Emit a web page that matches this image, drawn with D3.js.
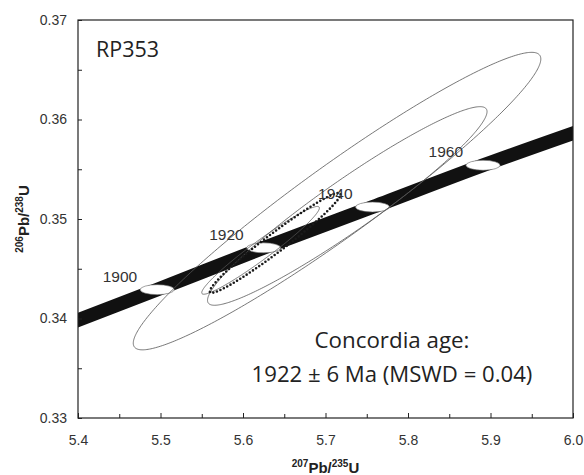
<!DOCTYPE html>
<html>
<head>
<meta charset="utf-8">
<script src="https://cdn.jsdelivr.net/npm/d3@7"></script>
<style>
  html, body { margin: 0; padding: 0; background: #fff; }
  svg { display: block; }
</style>
</head>
<body>
<svg id="chart" width="584" height="475"></svg>
<script>
// ---- data ----
const sampleName = "RP353";
const xTickValues = [5.4, 5.5, 5.6, 5.7, 5.8, 5.9, 6.0];
const xTickLabels = ["5.4", "5.5", "5.6", "5.7", "5.8", "5.9", "6.0"];
const yTickValues = [0.33, 0.34, 0.35, 0.36, 0.37];
const yTickLabels = ["0.33", "0.34", "0.35", "0.36", "0.37"];

// concordia curve points (207Pb/235U, 206Pb/238U)
const concordiaX = [5.38, 5.496, 5.625, 5.757, 5.891, 6.02];
const concordiaY = [0.3392, 0.3429, 0.3471, 0.3512, 0.3554, 0.3592];

// age markers on concordia
const markerAges = ["1900", "1920", "1940", "1960"];
const markerX = [5.496, 5.625, 5.757, 5.891];
const markerY = [0.3429, 0.3471, 0.3512, 0.3554];

// analysis error ellipses: centre, 2-sigma half widths, correlation
const ellipseCx = [5.714, 5.7264, 5.6213];
const ellipseCy = [0.3518, 0.35131, 0.34685];
const ellipseSx = [0.247, 0.1694, 0.0713];
const ellipseSy = [0.01495, 0.00998, 0.00441];
const ellipseRho = [0.955, 0.95, 0.965];

// concordia age ellipse (dotted)
const ageEllipse = { cx: 5.639, cy: 0.3476, sx: 0.0792, sy: 0.00502, rho: 0.972 };
const ageText1 = "Concordia age:";
const ageText2 = "1922 \u00b1 6 Ma (MSWD = 0.04)";

// ---- layout ----
const svg = d3.select("#chart");
const L = 78, R = 573, T = 20, B = 418;
const x = d3.scaleLinear().domain([5.4, 6.0]).range([L, R]);
const y = d3.scaleLinear().domain([0.33, 0.37]).range([B, T]);

svg.append("defs").append("clipPath").attr("id", "plotclip")
  .append("rect").attr("x", L).attr("y", T).attr("width", R - L).attr("height", B - T);

const plot = svg.append("g").attr("clip-path", "url(#plotclip)");

// concordia band
const band = d3.line().x(d => x(d[0])).y(d => y(d[1])).curve(d3.curveMonotoneX);
plot.append("path")
  .datum(concordiaX.map((v, i) => [v, concordiaY[i]]))
  .attr("d", band)
  .attr("fill", "none")
  .attr("stroke", "#111")
  .attr("stroke-width", 13.8);

// markers
plot.selectAll("ellipse.marker")
  .data(markerAges)
  .join("ellipse")
  .attr("class", "marker")
  .attr("cx", (d, i) => x(markerX[i]))
  .attr("cy", (d, i) => y(markerY[i]))
  .attr("rx", 17)
  .attr("ry", 5)
  .attr("fill", "#fff")
  .attr("stroke", "#666")
  .attr("stroke-width", 0.6);

function ellipsePoints(cx, cy, sx, sy, rho) {
  const pts = [];
  const n = 360;
  const k = Math.sqrt(1 - rho * rho);
  for (let j = 0; j < n; j++) {
    const t = (j / n) * 2 * Math.PI;
    const c = Math.cos(t), s = Math.sin(t);
    pts.push([cx + sx * c, cy + sy * (rho * c + k * s)]);
  }
  return pts;
}
const closedLine = d3.line().x(d => x(d[0])).y(d => y(d[1])).curve(d3.curveLinearClosed);

plot.selectAll("path.err")
  .data(ellipseCx)
  .join("path")
  .attr("class", "err")
  .attr("d", (d, i) => closedLine(ellipsePoints(ellipseCx[i], ellipseCy[i], ellipseSx[i], ellipseSy[i], ellipseRho[i])))
  .attr("fill", "none")
  .attr("stroke", "#555")
  .attr("stroke-width", 0.8);

plot.append("path")
  .attr("d", closedLine(ellipsePoints(ageEllipse.cx, ageEllipse.cy, ageEllipse.sx, ageEllipse.sy, ageEllipse.rho)))
  .attr("fill", "none")
  .attr("stroke", "#1a1a1a")
  .attr("stroke-width", 2.6)
  .attr("stroke-linecap", "round")
  .attr("stroke-dasharray", "0 3.8");

// marker labels
svg.selectAll("text.age")
  .data(markerAges)
  .join("text")
  .attr("class", "age")
  .attr("x", (d, i) => x(markerX[i]) - 20)
  .attr("y", (d, i) => y(markerY[i]) - 8)
  .attr("text-anchor", "end")
  .attr("font-family", "'Liberation Sans', Arial, sans-serif")
  .attr("font-size", 15.5)
  .attr("fill", "#333")
  .text(d => d);

// axes
const minorX = d3.range(5.4, 6.0001, 0.05).map(v => +v.toFixed(2));
const minorY = d3.range(0.33, 0.37001, 0.005).map(v => +v.toFixed(3));

const xAxis = d3.axisBottom(x)
  .tickValues(minorX)
  .tickSize(-4)
  .tickPadding(17)
  .tickFormat(v => {
    const i = xTickValues.findIndex(t => Math.abs(t - v) < 1e-9);
    return i >= 0 ? xTickLabels[i] : "";
  });
const gx = svg.append("g").attr("transform", `translate(0,${B})`).call(xAxis);

const yAxis = d3.axisLeft(y)
  .tickValues(minorY)
  .tickSize(-4)
  .tickPadding(11)
  .tickFormat(v => {
    const i = yTickValues.findIndex(t => Math.abs(t - v) < 1e-9);
    return i >= 0 ? yTickLabels[i] : "";
  });
const gy = svg.append("g").attr("transform", `translate(${L},0)`).call(yAxis);

[gx, gy].forEach(g => {
  g.select(".domain").remove();
  g.selectAll(".tick line").attr("stroke", "#222").attr("stroke-width", 1);
  g.selectAll(".tick text")
    .attr("font-family", "'Liberation Sans', Arial, sans-serif")
    .attr("font-size", 14)
    .attr("fill", "#333");
});
gx.selectAll(".tick line").attr("y2", v => xTickValues.some(t => Math.abs(t - v) < 1e-9) ? -5 : -4);

// frame
svg.append("rect")
  .attr("x", L).attr("y", T).attr("width", R - L).attr("height", B - T)
  .attr("fill", "none").attr("stroke", "#222").attr("stroke-width", 1.2);

// axis titles
function titleText(g, sup1, main1, sup2, main2) {
  const t = g.append("text")
    .attr("text-anchor", "middle")
    .attr("font-family", "'Liberation Sans', Arial, sans-serif")
    .attr("font-weight", "bold")
    .attr("fill", "#222");
  t.append("tspan").attr("font-size", 10).attr("dy", -6).text(sup1);
  t.append("tspan").attr("font-size", 15).attr("dy", 6).text(main1);
  t.append("tspan").attr("font-size", 10).attr("dy", -6).text(sup2);
  t.append("tspan").attr("font-size", 15).attr("dy", 6).text(main2);
  return t;
}
titleText(svg.append("g").attr("transform", `translate(${(L + R) / 2},473)`), "207", "Pb/", "235", "U");
titleText(svg.append("g").attr("transform", `translate(29,${(T + B) / 2}) rotate(-90)`), "206", "Pb/", "238", "U");

// annotations (fit widths to reference)
function fitText(txt, xPos, yPos, anchor, targetW) {
  const t = svg.append("text")
    .attr("x", xPos).attr("y", yPos)
    .attr("text-anchor", anchor)
    .attr("font-family", "'Open Sans', 'Noto Sans', sans-serif")
    .attr("font-size", 20)
    .attr("fill", "#222")
    .text(txt);
  const w = t.node().getComputedTextLength();
  t.attr("font-size", 20 * targetW / w);
  return t;
}
fitText(sampleName, 96, 57, "start", 63);
fitText(ageText1, 392, 348, "middle", 155);
fitText(ageText2, 392, 382, "middle", 281);
</script>
</body>
</html>
